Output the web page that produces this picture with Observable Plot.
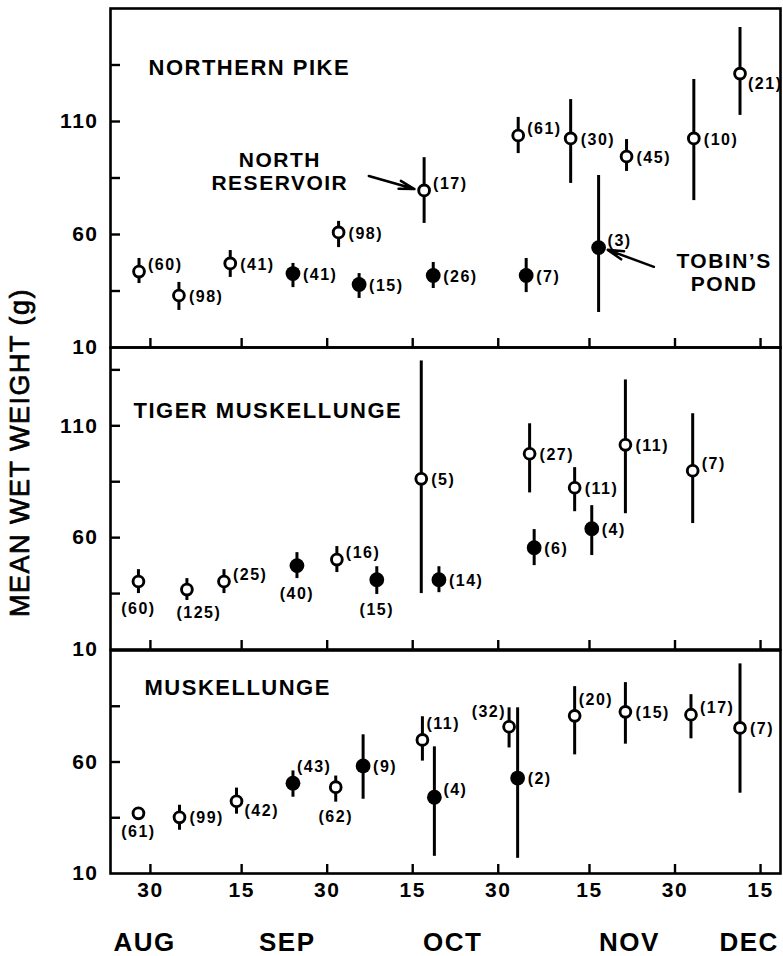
<!DOCTYPE html>
<html><head><meta charset="utf-8">
<script src="https://cdn.jsdelivr.net/npm/d3@7"></script>
<script src="https://cdn.jsdelivr.net/npm/@observablehq/plot@0.6"></script>
<style>
body{margin:0;background:#fff;}
#chart{position:relative;width:783px;height:956px;background:#fff;}
#chart svg{position:absolute;left:0;overflow:visible;}
</style></head><body><div id="chart"></div>
<script>
// ---------- DATA ----------
const tickDates = ["08-30","09-15","09-30","10-15","10-30","11-15","11-30","12-15"];
const tickLabels = ["30","15","30","15","30","15","30","15"];
const monthNames = ["AUG","SEP","OCT","NOV","DEC"];
const monthLabelDates = ["08-29","09-23","10-22","11-22","12-13"];

// Northern pike (N = North Reservoir, T = Tobin's Pond)
const pikeDate = ["08-28","09-04","09-13","10-02","10-17","11-02.5","11-11.7","11-21.5","12-03.3","12-11.4","09-24","10-05.6","10-18.6","11-03.9","11-16.6"];
const pikeMean = [43.6,33,47.2,60.9,79.5,103.8,102.5,94.5,102.5,131.2,42.7,37.9,41.9,41.9,54.2];
const pikeLow  = [38.3,26.4,41,54.2,64.9,95.8,82.6,87.9,75,112.7,36.5,31.7,36.1,34.3,25.5];
const pikeHigh = [49.4,38.8,52.9,65.8,94,111.8,119.7,102,128.6,151.6,47.2,42.7,47.6,49.4,86.1];
const pikeN    = [60,98,41,98,17,61,30,45,10,21,41,15,26,7,3];
const pikeSite = ["N","N","N","N","N","N","N","N","N","N","T","T","T","T","T"];

// Tiger muskellunge
const tigerDate = ["08-27.9","09-05.4","09-11.9","10-01.7","10-16.5","11-04.5","11-12.4","11-21.3","12-03.1","09-24.7","10-08.7","10-19.6","11-05.3","11-15.4"];
const tigerMean = [40.4,36.8,40.4,50.2,86.3,97.5,82.3,101.5,89.9,47.5,41.2,41.2,55.5,64];
const tigerLow  = [35,31.9,35,44.4,35,80,71.6,70.7,66.3,41.7,34.6,35.4,47.5,52];
const tigerHigh = [45.7,41.7,45.7,56,139,110.9,91.3,130.5,115.4,53.3,47,47,63.6,74.3];
const tigerN    = [60,125,25,16,5,27,11,11,7,40,15,14,6,4];
const tigerSite = ["N","N","N","N","N","N","N","N","N","T","T","T","T","T"];

// Muskellunge
const muskyDate = ["08-27.9","09-04.1","09-14.1","10-01.5","10-16.7","10-31.9","11-12.4","11-21.3","12-02.8","12-11.4","09-24","10-06.3","10-18.8","11-02.4"];
const muskyMean = [37,35.2,42.4,48.7,69.9,75.8,80.7,82.5,81.2,75.3,50.5,58.2,44.2,52.8];
const muskyLow  = [35.5,29.4,36.6,42,60.4,66.3,63.2,68,70.4,46,44.2,43.3,17.7,16.8];
const muskyHigh = [38.5,40.6,48.3,53.7,80.3,84.3,93.8,95.6,90.2,104,56,72.2,66.8,84.3];
const muskyN    = [61,99,42,62,11,32,20,15,17,7,43,9,4,2];
const muskySite = ["N","N","N","N","N","N","N","N","N","N","T","T","T","T"];

// Annotations (data coordinates)
const annotLabels = ["NORTH\nRESERVOIR", "TOBIN\u2019S\nPOND"];
const annotDates = ["09-21.7", "12-08.6"];
const annotValues = [87.9, 43.5];
const arrowFromDates = ["10-07.3", "11-26.3"];
const arrowFromValues = [85.9, 45.7];
const arrowToDates = ["10-15.3", "11-18.2"];
const arrowToValues = [80.1, 53.2];

// ---------- LAYOUT (label placement codes) ----------
const pikePos  = ["ne","e","e","e","ne","ne","e","e","e","se","e","e","e","e","ne"];
const tigerPos = ["s","sr","ne","ne","e","e","e","e","ne","s","s","e","e","e"];
const muskyPos = ["s","e","se","s","nn","nw","nn","e","ne","e","nn","e","ne","e"];

const FONT = '"Liberation Sans", Arial, Helvetica, sans-serif';
const day = s => { const [m, d] = s.split("-"); return new Date(Date.UTC(1981, +m - 1, 1) + (parseFloat(d) - 1) * 864e5); };
const xDomain = [day("08-23"), day("12-18.5")];
const tickD = tickDates.map(day);
const tickLabelOf = new Map(tickD.map((d, i) => [+d, tickLabels[i]]));

const OFF = {
  e:  {dx: 10, dy: 1,   textAnchor: "start"},
  ne: {dx: 9,  dy: -7,  textAnchor: "start"},
  se: {dx: 8,  dy: 10,  textAnchor: "start"},
  nn: {dx: 4,  dy: -16, textAnchor: "start"},
  nw: {dx: -3, dy: -15, textAnchor: "end"},
  s:  {dx: 0,  dy: 15,  textAnchor: "middle", y: "low"},
  sr: {dx: 12, dy: 12,  textAnchor: "middle", y: "low"}
};

function rowsOf(date, mean, low, high, n, site, pos) {
  return date.map((d, i) => ({date: day(d), mean: mean[i], low: low[i], high: high[i], n: n[i], site: site[i], pos: pos[i]}));
}

function panel(cfg) {
  const {rows, title, titleDx, titleDy, yDomain, yTicks, yLabels, top, height, marginTop, marginBottom, extra = []} = cfg;
  const labelMarks = Object.entries(OFF).map(([k, o]) => Plot.text(rows.filter(r => r.pos === k), {
    x: "date", y: o.y || "mean", text: r => `(${r.n})`, dx: o.dx, dy: o.dy, textAnchor: o.textAnchor,
    lineAnchor: "middle", fontSize: 16, fontWeight: "bold", fill: "black"
  }));
  const p = Plot.plot({
    width: 783, height, marginLeft: 110, marginRight: 3, marginTop, marginBottom,
    style: {fontFamily: FONT, letterSpacing: "1.5px", overflow: "visible", background: "transparent", color: "black"},
    x: {type: "utc", domain: xDomain, label: null},
    y: {domain: yDomain, label: null},
    marks: [
      Plot.axisY({ticks: yTicks, tickSize: -10, tickFormat: () => "", strokeWidth: 2.4, label: null}),
      Plot.axisY({ticks: yLabels, tickSize: 0, tickPadding: 12, fontSize: 21, fontWeight: "bold", label: null}),
      Plot.axisX({ticks: tickD, tickSize: -9, tickFormat: () => "", strokeWidth: 2.4, label: null}),
      Plot.ruleX(rows, {x: "date", y1: "low", y2: "high", stroke: "black", strokeWidth: 3}),
      Plot.dot(rows.filter(r => r.site === "T"), {x: "date", y: "mean", r: 7.4, fill: "black"}),
      Plot.dot(rows.filter(r => r.site === "N"), {x: "date", y: "mean", r: 5.4, fill: "white", stroke: "black", strokeWidth: 2.9}),
      ...labelMarks,
      Plot.text([title], {text: d => d, frameAnchor: "top-left", dx: titleDx, dy: titleDy, textAnchor: "start", lineAnchor: "middle", fontSize: 22, fontWeight: "bold", fill: "black"}),
      ...extra,
      Plot.frame({stroke: "black", strokeWidth: 2.6})
    ]
  });
  p.style.top = top + "px";
  return p;
}

const annotRows = annotLabels.map((l, i) => ({label: l, date: day(annotDates[i]), value: annotValues[i]}));
const arrowRows = arrowFromDates.map((d, i) => ({x1: day(d), y1: arrowFromValues[i], x2: day(arrowToDates[i]), y2: arrowToValues[i]}));
const monthRows = monthNames.map((m, i) => ({label: m, date: day(monthLabelDates[i])}));

const chart = document.getElementById("chart");

chart.append(panel({
  rows: rowsOf(pikeDate, pikeMean, pikeLow, pikeHigh, pikeN, pikeSite, pikePos),
  title: "NORTHERN PIKE", titleDx: 38, titleDy: 59,
  yDomain: [10, 160], yTicks: [35, 60, 85, 110, 135], yLabels: [10, 60, 110],
  top: 0, height: 350, marginTop: 8, marginBottom: 3,
  extra: [
    Plot.text(annotRows, {x: "date", y: "value", text: "label", fontSize: 21, fontWeight: "bold", lineHeight: 1.1, textAnchor: "middle", lineAnchor: "middle", fill: "black"}),
    Plot.arrow(arrowRows, {x1: "x1", y1: "y1", x2: "x2", y2: "y2", stroke: "black", strokeWidth: 2.5, headLength: 12, headAngle: 30})
  ]
}));

chart.append(panel({
  rows: rowsOf(tigerDate, tigerMean, tigerLow, tigerHigh, tigerN, tigerSite, tigerPos),
  title: "TIGER MUSKELLUNGE", titleDx: 23, titleDy: 63,
  yDomain: [10, 145], yTicks: [35, 60, 85, 110, 135], yLabels: [10, 60, 110],
  top: 344, height: 308, marginTop: 3, marginBottom: 3,
  extra: [
    Plot.text(["MEAN WET WEIGHT (g)"], {text: d => d, frameAnchor: "left", dx: -90, dy: -46, rotate: -90, fontSize: 27, fontWeight: "normal", stroke: "black", strokeWidth: 0.7, textAnchor: "middle", lineAnchor: "middle", fill: "black"})
  ]
}));

chart.append(panel({
  rows: rowsOf(muskyDate, muskyMean, muskyLow, muskyHigh, muskyN, muskySite, muskyPos),
  title: "MUSKELLUNGE", titleDx: 34, titleDy: 37,
  yDomain: [10, 110], yTicks: [35, 60, 85], yLabels: [10, 60],
  top: 647, height: 309, marginTop: 3, marginBottom: 83,
  extra: [
    Plot.axisX({ticks: tickD, tickSize: 0, tickPadding: 9, tickFormat: d => tickLabelOf.get(+d), fontSize: 21, fontWeight: "bold", label: null}),
    Plot.text(monthRows, {x: "date", text: "label", frameAnchor: "bottom", dy: 69, fontSize: 26, fontWeight: "bold", lineAnchor: "middle", fill: "black"})
  ]
}));
</script></body></html>
